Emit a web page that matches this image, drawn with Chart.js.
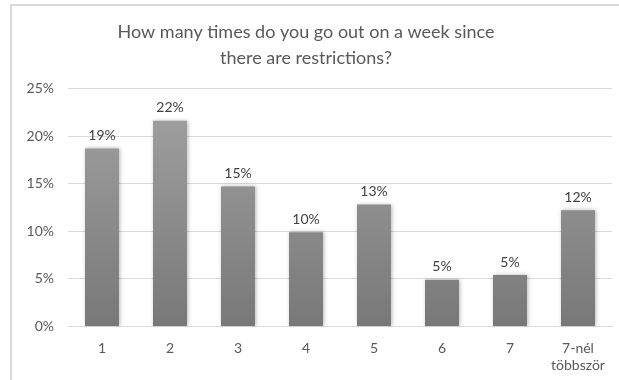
<!DOCTYPE html>
<html>
<head>
<meta charset="utf-8">
<script src="https://cdn.jsdelivr.net/npm/chart.js@4.4.1/dist/chart.umd.min.js"></script>
<style>
  html, body { margin: 0; padding: 0; background: #fff; }
  #wrap { position: relative; width: 619px; height: 380px; }
</style>
</head>
<body>
<div id="wrap"><canvas id="chart" width="619" height="380"></canvas></div>
<script>
const categories = ["1", "2", "3", "4", "5", "6", "7", ["7-nél", "többször"]];
const shares = [18.7, 21.6, 14.7, 9.9, 12.8, 4.9, 5.4, 12.2];
const shareLabels = ["19%", "22%", "15%", "10%", "13%", "5%", "5%", "12%"];
const yTicks = [0, 5, 10, 15, 20, 25];

const FONT = "Lato, 'Open Sans', sans-serif";

// light grey frame on the top and left, like the pasted screenshot
const framePlugin = {
  id: "frame",
  beforeDraw(chart) {
    const c = chart.ctx;
    c.save();
    c.fillStyle = "#fff";
    c.fillRect(0, 0, chart.width, chart.height);
    c.strokeStyle = "#d9d9d9";
    c.lineWidth = 2;
    c.beginPath();
    c.moveTo(11, chart.height);
    c.lineTo(11, 5);
    c.lineTo(chart.width, 5);
    c.stroke();
    c.restore();
  }
};

// soft shadow behind the bars
const shadowPlugin = {
  id: "barShadow",
  beforeDatasetsDraw(chart) {
    const c = chart.ctx;
    c.save();
    c.shadowColor = "rgba(0,0,0,0.28)";
    c.shadowBlur = 4;
    c.shadowOffsetX = 1;
    c.shadowOffsetY = 0;
  },
  afterDatasetsDraw(chart) {
    chart.ctx.restore();
  }
};

// value labels above each bar
const labelPlugin = {
  id: "barLabels",
  afterDatasetsDraw(chart) {
    const c = chart.ctx;
    const meta = chart.getDatasetMeta(0);
    c.save();
    c.font = "14px " + FONT;
    c.fillStyle = "#404040";
    c.textAlign = "center";
    c.textBaseline = "bottom";
    meta.data.forEach((bar, i) => {
      c.fillText(shareLabels[i], bar.x, bar.y - 6);
    });
    c.restore();
  }
};

const ctx = document.getElementById("chart").getContext("2d");

new Chart(ctx, {
  type: "bar",
  data: {
    labels: categories,
    datasets: [{
      data: shares,
      backgroundColor: (context) => {
        const area = context.chart.chartArea;
        if (!area) return "#8c8c8c";
        const g = context.chart.ctx.createLinearGradient(0, area.top, 0, area.bottom);
        g.addColorStop(0, "#a3a3a3");
        g.addColorStop(1, "#787878");
        return g;
      },
      borderWidth: 0,
      barPercentage: 0.5,
      categoryPercentage: 1.0
    }]
  },
  options: {
    responsive: false,
    animation: false,
    layout: { padding: { top: 8, right: 7, bottom: 0, left: 0 } },
    scales: {
      y: {
        min: 0,
        max: 25,
        afterBuildTicks: (axis) => {
          axis.ticks = yTicks.map((v) => ({ value: v }));
        },
        afterFit: (axis) => { axis.width = 68; },
        ticks: {
          callback: (value) => value + "%",
          color: "#595959",
          font: { family: FONT, size: 14 },
          padding: 14
        },
        grid: { color: "#d9d9d9", lineWidth: 1, drawTicks: false },
        border: { display: false }
      },
      x: {
        ticks: {
          color: "#595959",
          font: { family: FONT, size: 14 },
          padding: 6
        },
        grid: { display: false },
        border: { color: "#d9d9d9", width: 1 }
      }
    },
    plugins: {
      legend: { display: false },
      tooltip: { enabled: false },
      title: {
        display: true,
        text: ["How many times do you go out on a week since", "there are restrictions?"],
        color: "#595959",
        font: { family: FONT, size: 18, weight: "normal", lineHeight: 1.4 },
        padding: { top: 12, bottom: 18 }
      }
    }
  },
  plugins: [framePlugin, shadowPlugin, labelPlugin]
});
</script>
</body>
</html>
